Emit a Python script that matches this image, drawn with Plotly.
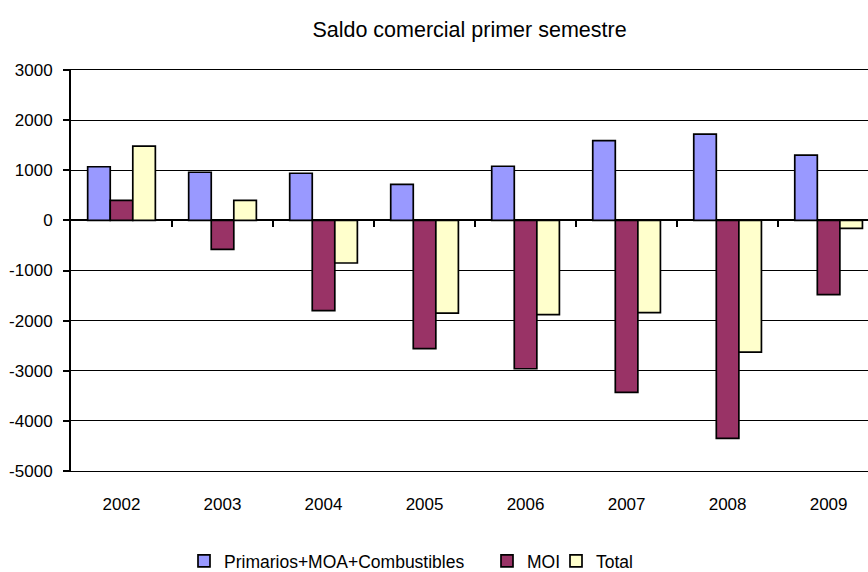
import plotly.graph_objects as go

years = ["2002", "2003", "2004", "2005", "2006", "2007", "2008", "2009"]
primarios = [1070, 960, 940, 720, 1080, 1590, 1720, 1300]
moi = [400, -580, -1800, -2560, -2960, -3430, -4350, -1480]
total = [1480, 400, -850, -1850, -1880, -1840, -2630, -160]

y_tick_values = [3000, 2000, 1000, 0, -1000, -2000, -3000, -4000, -5000]
y_tick_labels = ["3000", "2000", "1000", "0", "-1000", "-2000", "-3000", "-4000", "-5000"]

series_names = ["Primarios+MOA+Combustibles", "MOI", "Total"]
series_values = [primarios, moi, total]
series_colors = ["#9999FF", "#993366", "#FFFFCC"]
legend_ids = ["legend", "legend2", "legend3"]

FONT = "Liberation Sans, Arial, sans-serif"

fig = go.Figure()
for name, vals, col, lg in zip(series_names, series_values, series_colors, legend_ids):
    fig.add_trace(go.Bar(
        x=years, y=vals, name=name, showlegend=True,
        marker=dict(color=col, line=dict(color="black", width=1.7)),
        legend=lg,
    ))
# empty helper trace so the zero-line tick axis is drawn
fig.add_trace(go.Scatter(x=[], y=[], xaxis="x2", yaxis="y", showlegend=False,
                         hoverinfo="skip"))

W, H = 868, 572
ml, mr, mt, mb = 71, 0, 70, 101
pw = W - ml - mr
ph = H - mt - mb

def px_x(p):
    return (p - ml) / pw

def px_y(p):
    return (H - mb - p) / ph

leg_common = dict(orientation="h", xref="paper", yref="paper", yanchor="middle",
                  font=dict(family=FONT, size=17.5, color="black"),
                  bgcolor="rgba(0,0,0,0)", borderwidth=0)

fig.update_layout(
    width=W, height=H, showlegend=True,
    margin=dict(l=ml, r=mr, t=mt, b=mb, autoexpand=False),
    paper_bgcolor="white", plot_bgcolor="white",
    font=dict(family=FONT, size=17, color="black"),
    title=dict(text="Saldo comercial primer semestre", x=0.5, xref="paper",
               xanchor="center", y=1 - 29 / H, yanchor="middle", automargin=False,
               font=dict(family=FONT, size=21.5, color="black")),
    barmode="group", bargap=0.33, bargroupgap=0,
    legend=dict(x=px_x(184), y=px_y(561), **leg_common),
    legend2=dict(x=px_x(487), y=px_y(561), **leg_common),
    legend3=dict(x=px_x(556), y=px_y(561), **leg_common),
    xaxis=dict(type="category", range=[-0.5, 7.39], showgrid=False,
               showline=True, mirror=True, linecolor="black", linewidth=1.3,
               ticks="", ticklabelstandoff=17, zeroline=False, automargin=False,
               tickfont=dict(family=FONT, size=17)),
    xaxis2=dict(type="linear", overlaying="x", anchor="free", position=0.625,
                range=[-0.5, 7.39], tickmode="array",
                tickvals=[0.5, 1.5, 2.5, 3.5, 4.5, 5.5, 6.5, 7.5],
                ticks="outside", ticklen=6, tickwidth=2, tickcolor="black",
                showticklabels=False, showline=False, showgrid=False, zeroline=False,
                automargin=False),
    yaxis=dict(range=[-5000, 3000], tickmode="array", tickvals=y_tick_values,
               ticktext=y_tick_labels, showgrid=True, gridcolor="black",
               gridwidth=1.3, zeroline=True, zerolinecolor="black", zerolinewidth=2,
               showline=True, linecolor="black", linewidth=2, automargin=False,
               ticks="outside", ticklen=6, tickwidth=2, tickcolor="black",
               ticklabelstandoff=7, tickfont=dict(family=FONT, size=17)),
)

fig.write_html("out.html", config={"displayModeBar": False},
               post_script="document.body.style.margin='0';document.body.style.overflow='hidden';")
